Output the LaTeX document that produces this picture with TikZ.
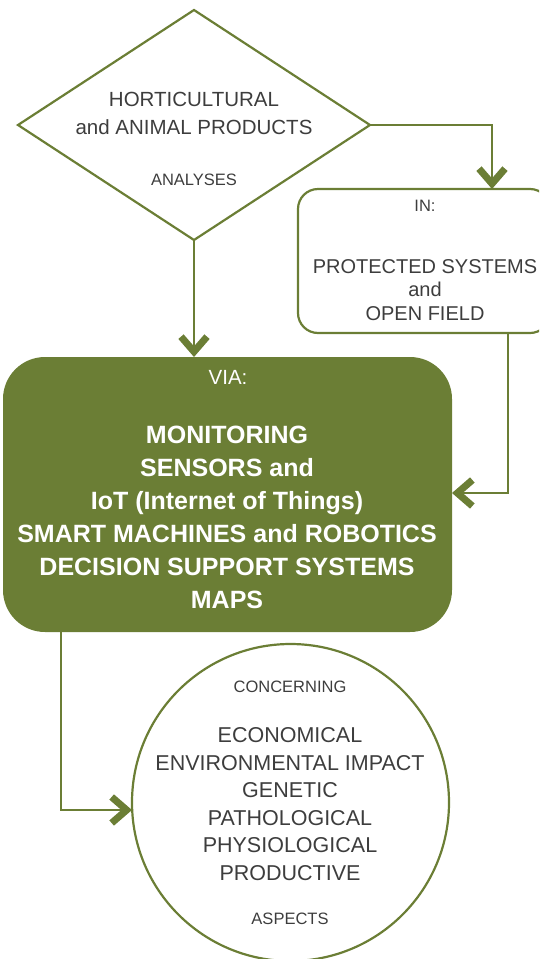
\documentclass[tikz,border=0pt]{standalone}
\usepackage{fontspec}
\setmainfont{Liberation Sans}
\usetikzlibrary{shapes.geometric,arrows.meta}
\definecolor{olive}{HTML}{6B7E35}
\definecolor{ink}{HTML}{3D3D3D}
\tikzset{
  outline/.style={draw=olive, line width=2.2pt},
  flow/.style={draw=olive, line width=2.4pt,
    -{Straight Barb[length=15pt,width=26pt,line width=7pt]}},
  label/.style={text=ink, inner sep=0pt, align=center},
  txtmain/.style={font=\fontsize{20.5}{28}\selectfont},
  txtsmall/.style={font=\fontsize{16.5}{20}\selectfont},
  txtbold/.style={font=\fontsize{25}{33}\selectfont\bfseries},
}
\begin{document}
\begin{tikzpicture}[x=1pt,y=-1pt]
\useasboundingbox (0,0) rectangle (539,959);
\clip (0,0) rectangle (539,959);

% shapes
\node[outline, shape=diamond, minimum width=352pt, minimum height=230pt,
      inner sep=0pt, outer sep=0pt] (dia) at (194,125) {};
\node[outline, rectangle, rounded corners=20pt, minimum width=252pt,
      minimum height=144pt, inner sep=0pt, outer sep=0pt] (inbox) at (424,261) {};
\node[fill=olive, rectangle, rounded corners=42pt, minimum width=449pt,
      minimum height=275pt, inner sep=0pt, outer sep=0pt] (via) at (227.5,494.5) {};
\node[outline, circle, minimum size=317pt, inner sep=0pt, outer sep=0pt]
      (circ) at (290.5,802.5) {};

% texts of the diamond
\node[label, txtmain] (t1) at (194,113) {HORTICULTURAL\\ and ANIMAL PRODUCTS};
\node[label, txtsmall] (t2) at (194,180) {ANALYSES};

% texts of the rounded box
\node[label, txtsmall] (t3) at (425,206) {IN:};
\node[label, font=\fontsize{20}{23.5}\selectfont] (t4) at (425,290)
      {PROTECTED SYSTEMS\\ and\\ OPEN FIELD};

% texts of the filled box
\node[label, text=white, font=\fontsize{20.5}{24}\selectfont] (t5) at (228,377) {VIA:};
\node[label, text=white, txtbold] (t6) at (227,517) {MONITORING\\ SENSORS and\\ IoT (Internet of Things)\\ SMART MACHINES and ROBOTICS\\ DECISION SUPPORT SYSTEMS\\ MAPS};

% texts of the circle
\node[label, txtsmall] (t7) at (290,687) {CONCERNING};
\node[label, font=\fontsize{21.5}{27.5}\selectfont] (t8) at (290,804) {ECONOMICAL\\ ENVIRONMENTAL IMPACT\\ GENETIC\\ PATHOLOGICAL\\ PHYSIOLOGICAL\\ PRODUCTIVE};
\node[label, txtsmall] (t9) at (290,919) {ASPECTS};

% bend points of the connectors
\coordinate (b1) at (492,125);
\coordinate (b2) at (508,493);
\coordinate (b3) at (61,810);

% connectors
\draw[flow] (dia.south) -- (dia.south |- via.north);
\draw[flow] (dia.east) -| (b1 |- inbox.north);
\draw[flow] (b2 |- inbox.south) |- (via.east |- b2);
\draw[flow] (b3 |- via.south) |- (circ.west |- b3);
\end{tikzpicture}
\end{document}
